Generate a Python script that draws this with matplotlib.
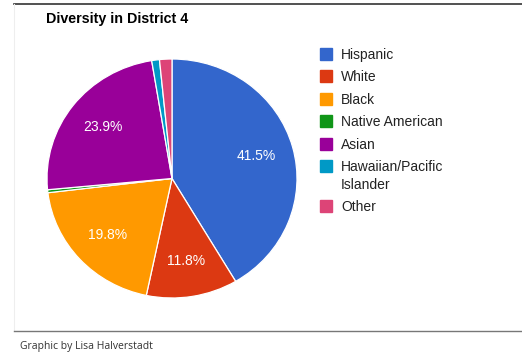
import matplotlib
matplotlib.use("Agg")
import matplotlib.pyplot as plt
from matplotlib.patches import Rectangle
from matplotlib.lines import Line2D

categories = ["Hispanic", "White", "Black", "Native American", "Asian",
              "Hawaiian/Pacific Islander", "Other"]
legend_labels = ["Hispanic", "White", "Black", "Native American", "Asian",
                 "Hawaiian/Pacific\nIslander", "Other"]
values = [41.5, 11.8, 19.8, 0.4, 23.9, 1.0, 1.6]
colors = ["#3366cc", "#dc3912", "#ff9900", "#109618", "#990099", "#0099c6", "#dd4477"]
title = "Diversity in District 4"
credit = "Graphic by Lisa Halverstadt"

W, H = 522, 356
fig = plt.figure(figsize=(W / 100, H / 100), dpi=100)
fig.patch.set_facecolor("white")

def fx(px):
    return px / W

def fy(py):
    return 1 - py / H

# frame lines
fig.add_artist(Line2D([fx(14), 1], [fy(4), fy(4)], color="#333333", lw=1.2))
fig.add_artist(Line2D([fx(14), fx(14)], [fy(4), fy(331)], color="#eeeeee", lw=0.8))
fig.add_artist(Line2D([fx(14), 1], [fy(331), fy(331)], color="#777777", lw=1.0))

# pie
cx, cy, rx, ry = 172, 178.5, 125, 119.5
ax = fig.add_axes([fx(cx - rx), fy(cy + ry), 2 * rx / W, 2 * ry / H])

def fmt(p):
    return f"{p:.1f}%" if p >= 5 else ""

wedges, texts, autotexts = ax.pie(
    values, colors=colors, startangle=90, counterclock=False,
    autopct=fmt, pctdistance=0.70,
    wedgeprops=dict(edgecolor="white", linewidth=0.9),
    textprops=dict(color="white", fontsize=10, family="Liberation Sans"),
)
ax.set_aspect("auto")
ax.set_xlim(-1.0, 1.0)
ax.set_ylim(-1.0, 1.0)
ax.axis("off")

# title
fig.text(fx(46), fy(19), title, fontsize=10.3, fontweight="bold",
         family="Liberation Sans", color="#000000", va="center", ha="left")

# legend
y = 54
for lab, col in zip(legend_labels, colors):
    fig.add_artist(Rectangle((fx(320), fy(y + 6)), 12 / W, 12 / H,
                             color=col, transform=fig.transFigure))
    lines = lab.split("\n")
    for i, ln in enumerate(lines):
        fig.text(fx(341), fy(y + 1 + i * 18), ln, fontsize=10,
                 family="Liberation Sans", color="#222222", va="center", ha="left")
    y += 22.4 + (len(lines) - 1) * 18

# credit
fig.text(fx(20), fy(346), credit, fontsize=7.5, family="Open Sans",
         color="#333333", va="center", ha="left")

fig.savefig("out.png", dpi=100)
